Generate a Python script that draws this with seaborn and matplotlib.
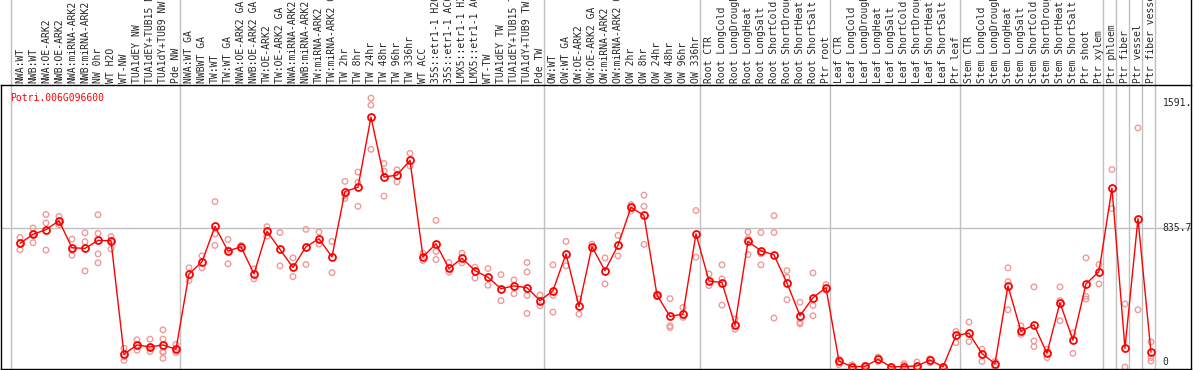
import matplotlib
matplotlib.use('Agg')
import matplotlib.pyplot as plt
import matplotlib.transforms as mtransforms
import seaborn as sns
import pandas as pd

gene = 'Potri.006G096600'

labels = ['NWA:WT', 'NWB:WT', 'NWA:OE-ARK2', 'NWB:OE-ARK2', 'NWA:miRNA-ARK2', 'NWB:miRNA-ARK2',
          'NW 0hr', 'WT H2O', 'WT-NW', 'TUA1dEY NW', 'TUA1dEY+TUB15 NW', 'TUA1dY+TUB9 NW', 'Pde NW',
          'NWA:WT GA', 'NWBWT GA', 'TW:WT', 'TW:WT GA', 'NWA:OE-ARK2 GA', 'NWB:OE-ARK2 GA',
          'TW:OE-ARK2', 'TW:OE-ARK2 GA', 'NWA:miRNA-ARK2 GA', 'NWB:miRNA-ARK2 GA', 'TW:miRNA-ARK2',
          'TW:miRNA-ARK2 GA', 'TW 2hr', 'TW 8hr', 'TW 24hr', 'TW 48hr', 'TW 96hr', 'TW 336hr', 'WT ACC',
          '35S::etr1-1 H2O', '35S::etr1-1 ACC', 'LMX5::etr1-1 H2O', 'LMX5::etr1-1 ACC', 'WT-TW',
          'TUA1dEY TW', 'TUA1dEY+TUB15 TW', 'TUA1dY+TUB9 TW', 'Pde TW',
          'OW:WT', 'OW:WT GA', 'OW:OE-ARK2', 'OW:OE-ARK2 GA', 'OW:miRNA-ARK2', 'OW:miRNA-ARK2 GA',
          'OW 2hr', 'OW 8hr', 'OW 24hr', 'OW 48hr', 'OW 96hr', 'OW 336hr',
          'Root CTR', 'Root LongCold', 'Root LongDrought', 'Root LongHeat', 'Root LongSalt',
          'Root ShortCold', 'Root ShortDrought', 'Root ShortHeat', 'Root ShortSalt', 'Ptr root',
          'Leaf CTR', 'Leaf LongCold', 'Leaf LongDrought', 'Leaf LongHeat', 'Leaf LongSalt',
          'Leaf ShortCold', 'Leaf ShortDrought', 'Leaf ShortHeat', 'Leaf ShortSalt', 'Ptr leaf',
          'Stem CTR', 'Stem LongCold', 'Stem LongDrought', 'Stem LongHeat', 'Stem LongSalt',
          'Stem ShortCold', 'Stem ShortDrought', 'Stem ShortHeat', 'Stem ShortSalt', 'Ptr shoot',
          'Ptr xylem', 'Ptr phloem', 'Ptr fiber', 'Ptr vessel', 'Ptr fiber vessel']

means = [745, 800, 828, 882, 719, 715, 763, 761, 77, 133, 121, 133, 107,
         561, 634, 848, 699, 725, 561, 818, 709, 600, 725, 773, 664, 1058, 1084, 1506, 1145,
         1157, 1246, 664, 743, 594, 656, 581, 541, 472, 489, 478, 400,
         460, 682, 365, 725, 581, 733, 963, 914, 434, 305, 319, 803,
         519, 509, 252, 757, 701, 676, 507, 309, 418, 478,
         36, 2, 4, 46, 1, 3, 6, 42, 1, 190,
         204, 81, 20, 489, 216, 254, 83, 388, 162, 501, 575,
         1078, 113, 894, 89]

replicates = [[781, 745, 707], [838, 800, 749], [920, 868, 705], [908, 882, 858], [771, 703, 674],
              [809, 755, 579], [918, 805, 682, 628], [787, 761, 712], [113, 61, 40], [164, 133, 101],
              [168, 121, 93], [224, 168, 93, 52, 87], [137, 107, 87],
              [598, 521], [670, 598], [997, 802, 733], [769, 706, 622], [733, 713], [592, 531],
              [846, 790], [811, 610], [658, 545], [830, 618], [814, 741], [757, 569],
              [1119, 1036, 1016], [1175, 1113, 969], [1621, 1579, 1312], [1227, 1181, 1030],
              [1189, 1116], [1288, 1212], [686, 642], [884, 697, 648], [630, 572], [686, 628],
              [602, 537], [594, 493], [557, 400], [525, 442], [630, 573, 432, 323], [434, 369],
              [616, 432, 331], [757, 610], [410, 319], [741, 713], [658, 501], [793, 670],
              [979, 941], [1036, 969, 739], [440, 426], [412, 248, 238], [359, 299], [943, 662],
              [561, 491], [616, 531, 373], [289, 228], [814, 773, 678], [811, 682, 616],
              [912, 811, 295], [581, 541, 406], [390, 268, 260], [567, 371, 309], [497, 462],
              [48, 14], [14, 0], [10, 0], [60, 34], [2], [20, 10], [30, 0], [50, 26], [2, 0], [214, 147],
              [271, 153], [107, 34], [34, 0], [598, 515, 345], [248, 196], [483, 157, 123], [107, 57],
              [483, 400, 279], [206, 83], [658, 426, 410], [618, 501],
              [1191, 955], [380, 0], [1441, 345], [151, 57, 36]]

# last column of each group (a grey separator follows it)
group_ends = [-1, 12, 40, 52, 62, 72, 83, 84, 85, 86, 87]
tick_values = [0, 835.7, 1591.4]
tick_texts = ['0', '835.7', '1591.']

mono = 'DejaVu Sans Mono'
grey = '#c0c0c0'

sns.set_style('white')
plt.rcParams['font.family'] = [mono]

df_means = pd.DataFrame({'idx': range(len(means)), 'value': means})
rows = []
for i, reps in enumerate(replicates):
    for v in reps:
        rows.append([i, v])
df_reps = pd.DataFrame(rows, columns=['idx', 'value'])

fig = plt.figure(figsize=(11.94, 3.70), dpi=100)
ax = fig.add_axes([1 / 1194, 1 / 370, 1190 / 1194, 284 / 370])

ax.axhline(835.7, color=grey, lw=1, zorder=0)
for g in group_ends:
    ax.axvline(g + 0.33, ymin=0, ymax=1.31, color=grey, lw=1, zorder=0, clip_on=False)

sns.scatterplot(data=df_reps, x='idx', y='value', ax=ax, marker='o', s=16,
                color='#f09a9a', facecolor='none', edgecolor='#f09a9a', linewidth=1, zorder=2)
sns.lineplot(data=df_means, x='idx', y='value', ax=ax, estimator=None, color='red', lw=1,
             marker='o', markersize=5, markerfacecolor='none', markeredgecolor='red',
             markeredgewidth=1.3, zorder=3)

ax.set_xlim(-1.46, 90.08)
ax.set_ylim(-12, 1700)
ax.set_xticks([])
ax.set_yticks([])
ax.set_xlabel('')
ax.set_ylabel('')
for s in ax.spines.values():
    s.set_color('black')
    s.set_linewidth(1)
    s.set_visible(True)
ax.plot([1, 1], [1, 1.31], transform=ax.transAxes, color='black', lw=1, clip_on=False)

trans = mtransforms.blended_transform_factory(ax.transData, ax.transAxes)
for i, lab in enumerate(labels):
    ax.text(i, 1 + 2 / 284, lab, transform=trans, rotation=90, ha='center', va='bottom',
            fontsize=7, family=mono, clip_on=False)

ax.text(-0.78, 0.955, gene, transform=trans, color='red', fontsize=7, family=mono,
        ha='left', va='center')
for v, t in zip(tick_values, tick_texts):
    ax.text(87.9, v, t, fontsize=7, family=mono, ha='left',
            va='bottom' if v == 0 else 'center')

fig.savefig('out.png', dpi=100)
